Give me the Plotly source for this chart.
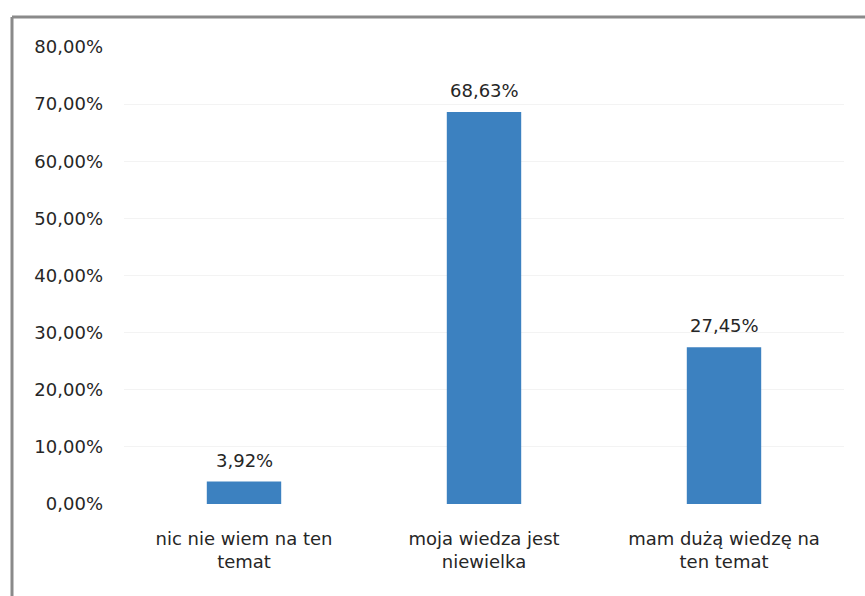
import plotly.graph_objects as go

# Survey answers and their shares (percent)
categories = ["nic nie wiem na ten<br>temat", "moja wiedza jest<br>niewielka", "mam dużą wiedzę na<br>ten temat"]
shares = [3.92, 68.63, 27.45]
y_ticks = [0, 10, 20, 30, 40, 50, 60, 70, 80]


def pct(v):
    return f"{v:.2f}".replace(".", ",") + "%"


BAR_COLOR = "#3c81c0"
TEXT_COLOR = "#262626"
FONT = "DejaVu Sans"

W, H = 865, 596
L, R, T, B = 124, 21, 47, 92

fig = go.Figure(
    go.Bar(
        x=categories,
        y=shares,
        marker=dict(color=BAR_COLOR, line=dict(width=0)),
        width=0.31,
        hoverinfo="skip",
    )
)

# value labels above each bar
for c, v in zip(categories, shares):
    fig.add_annotation(
        x=c, y=v, xref="x", yref="y",
        text=pct(v),
        showarrow=False, yanchor="bottom", yshift=9,
        font=dict(family=FONT, size=18, color=TEXT_COLOR),
    )

# frame around the chart (left and top edges)
ph = H - T - B
pw = W - L - R
x_left = (12 - L) / pw
y_top = (H - B - 17) / ph
y_bottom = (H - B - 600) / ph
x_right = (870 - L) / pw
for x0, y0, x1, y1 in [(x_left, y_bottom, x_left, y_top), (x_left, y_top, x_right, y_top)]:
    fig.add_shape(type="line", xref="paper", yref="paper",
                  x0=x0, y0=y0, x1=x1, y1=y1,
                  line=dict(color="#8a8a8a", width=3))

fig.update_layout(
    width=W, height=H,
    margin=dict(l=L, r=R, t=T, b=B),
    paper_bgcolor="white",
    plot_bgcolor="white",
    showlegend=False,
    font=dict(family=FONT, size=18, color=TEXT_COLOR),
    xaxis=dict(
        showgrid=False, showline=False, zeroline=False, ticks="",
        tickfont=dict(family=FONT, size=18, color=TEXT_COLOR),
        ticklabelstandoff=22,
    ),
    yaxis=dict(
        range=[0, 80], tickvals=y_ticks, ticktext=[pct(t) for t in y_ticks],
        showgrid=True, gridcolor="#f3f3f3", gridwidth=1,
        showline=False, zeroline=False, ticks="",
        tickfont=dict(family=FONT, size=18, color=TEXT_COLOR),
        ticklabelstandoff=20,
    ),
)

fig.write_html("out.html")
